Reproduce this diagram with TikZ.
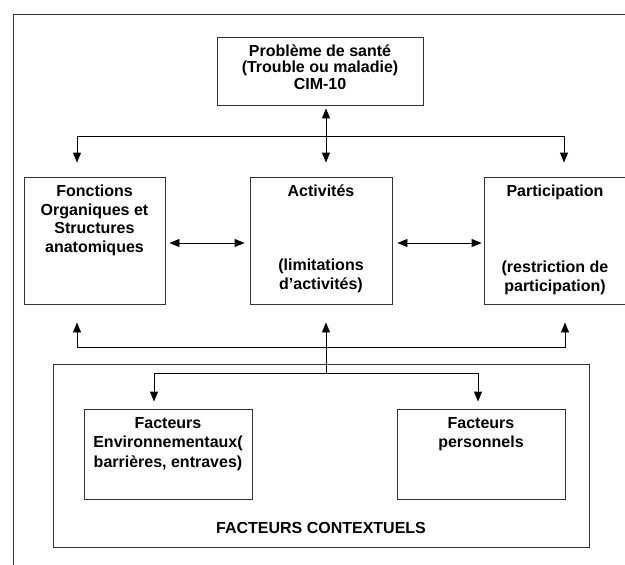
\documentclass[tikz,border=0pt]{standalone}
\usepackage{fontspec}
\setmainfont{Liberation Sans}
\usetikzlibrary{arrows.meta,calc}
\newcommand\hstrut{\rule{0pt}{13pt}}
\begin{document}
\begin{tikzpicture}[x=1pt,y=-1pt,
  box/.style={draw=black!80,line width=0.9pt,rectangle,inner sep=0pt},
  txt/.style={align=center,inner sep=0pt,anchor=north,font=\bfseries\fontsize{16}{18.7}\selectfont},
  conn/.style={draw=black,line width=0.9pt},
  tip/.style={conn,-{Triangle[length=10pt,width=8pt]}},
  dbl/.style={conn,{Triangle[length=10pt,width=8pt]}-{Triangle[length=10pt,width=8pt]}}]
\useasboundingbox (0,0) rectangle (625,565);
% outer frame (cut off on the right and bottom)
\draw[black!80,line width=0.9pt] (13,565) -- (13,14) -- (625,14);
% boxes
\node[box,minimum width=206pt,minimum height=68pt] (top) at (320,71) {};
\node[box,minimum width=141pt,minimum height=127pt] (fonc) at (94.5,240.5) {};
\node[box,minimum width=142pt,minimum height=127pt] (act) at (321,240.5) {};
\node[box,minimum width=142pt,minimum height=127pt] (part) at (555,240.5) {};
\node[box,minimum width=536pt,minimum height=183pt] (ctx) at (321,455.5) {};
\node[box,minimum width=168pt,minimum height=90pt] (env) at (168,454) {};
\node[box,minimum width=168pt,minimum height=90pt] (pers) at (481,454) {};
% texts
\node[txt,font=\bfseries\fontsize{16}{16.5}\selectfont] (toptxt) at (320,43.2) {\hstrut Problème de santé\\(Trouble ou maladie)\\CIM-10};
\node[txt] (fonctxt) at (94.5,183.2) {\hstrut Fonctions\\Organiques et\\Structures\\anatomiques};
\node[txt] (acttxt) at (321,183.2) {\hstrut Activités};
\node[txt,font=\bfseries\fontsize{16}{19}\selectfont] (actsub) at (321,257.5) {\hstrut (limitations\\d’activités)};
\node[txt] (parttxt) at (555,183.2) {\hstrut Participation};
\node[txt,font=\bfseries\fontsize{16}{19}\selectfont] (partsub) at (555,259.2) {\hstrut (restriction de\\participation)};
\node[txt,font=\bfseries\fontsize{16}{19.5}\selectfont] (envtxt) at (168,415.2) {\hstrut Facteurs\\Environnementaux(\\barrières, entraves)};
\node[txt,font=\bfseries\fontsize{16}{19.5}\selectfont] (perstxt) at (481,415.2) {\hstrut Facteurs\\personnels};
\node[txt] (ctxtxt) at (321,520.5) {\hstrut FACTEURS CONTEXTUELS};
% junctions
\coordinate (J1) at ($(act.north)+(5,-40)$);
\coordinate (J2) at ($(act.south)+(5,43)$);
\coordinate (J3) at ($(ctx.north)+(5,10)$);
% connectors
\draw[dbl,shorten <=3pt,shorten >=14pt] ($(top.south)+(6,0)$) -- ($(act.north)+(5,0)$);
\draw[tip,shorten >=14pt] (J1) -| ($(fonc.north)+(-17.5,0)$);
\draw[tip,shorten >=14pt] (J1) -| ($(part.north)+(9,0)$);
\draw[dbl,shorten <=4pt,shorten >=5pt] ($(fonc.east)+(0,2.5)$) -- ($(act.west)+(0,2.5)$);
\draw[dbl,shorten <=5pt,shorten >=2pt] ($(act.east)+(0,2.5)$) -- ($(part.west)+(0,2.5)$);
\draw[tip,shorten >=18pt] (J2) -| ($(fonc.south)+(-17.5,0)$);
\draw[tip,shorten >=18pt] (J2) -| ($(part.south)+(10,0)$);
\draw[tip,shorten >=18pt] (J3) -- ($(act.south)+(5,0)$);
\draw[tip,shorten >=7pt] (J3) -| ($(env.north)+(-14,0)$);
\draw[tip,shorten >=7pt] (J3) -| ($(pers.north)+(-3,0)$);
\end{tikzpicture}
\end{document}
